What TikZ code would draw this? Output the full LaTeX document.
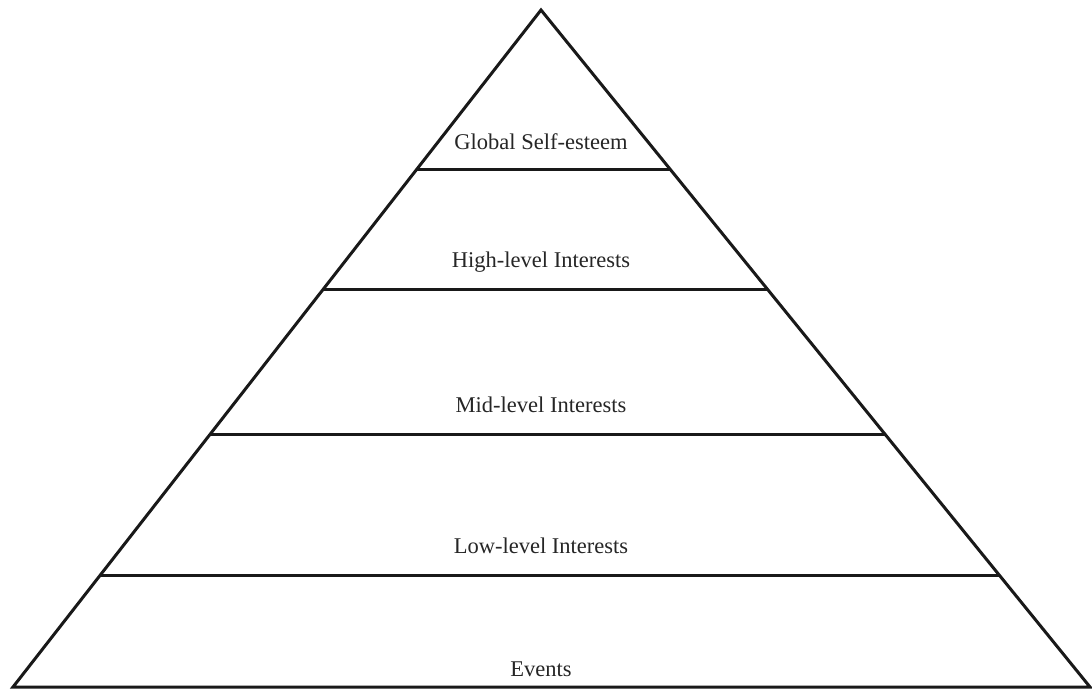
\documentclass[tikz,border=0pt]{standalone}
\usepackage{fontspec}
\setmainfont{Liberation Serif}
\usetikzlibrary{calc}
\begin{document}
\begin{tikzpicture}[x=1pt,y=-1pt,
  edge/.style={line width=3pt, line join=miter, black!90},
  label/.style={font=\fontsize{22.5}{24}\selectfont, text=black!85, inner sep=0pt}]
\useasboundingbox[fill=white] (0,0) rectangle (1092,690);
\coordinate (apex) at (541,10);
\coordinate (bl) at (13,687);
\coordinate (br) at (1090,687);
\draw[edge] (bl) -- (apex) -- (br) -- cycle;
% levels
\foreach \yy/\nm in {170/a,290/b,435/c,576/d}{
  \coordinate (L\nm) at ($(apex)!{(\yy-10)/677}!(bl)$);
  \coordinate (R\nm) at ($(apex)!{(\yy-10)/677}!(br)$);
  \draw[edge] (L\nm) -- (R\nm);
}
\node[label] (t1) at (541,142) {Global Self-esteem};
\node[label] (t2) at (541,262) {High-level Interests};
\node[label] (t3) at (541,405) {Mid-level Interests};
\node[label] (t4) at (541,546) {Low-level Interests};
\node[label] (t5) at (541,669) {Events};
\end{tikzpicture}
\end{document}
